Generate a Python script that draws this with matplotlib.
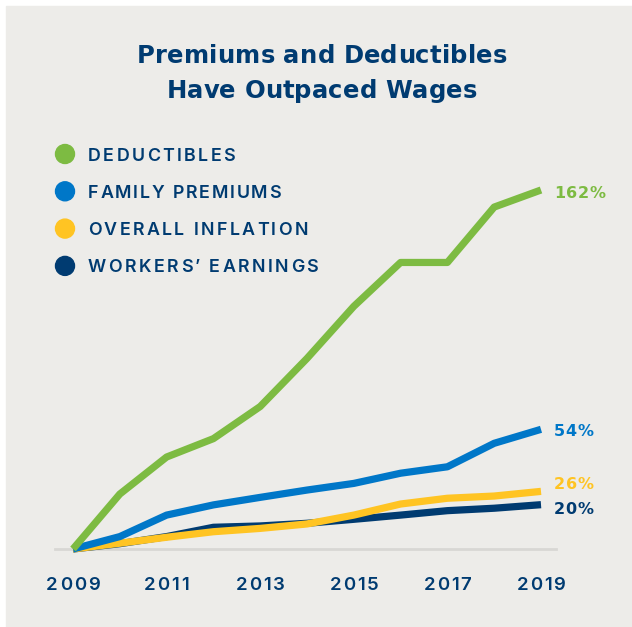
import matplotlib.pyplot as plt
from matplotlib import font_manager
from matplotlib.ft2font import FT2Font
from matplotlib.patches import Rectangle, Circle

try:
    from matplotlib.ft2font import LoadFlags
    NO_HINT = LoadFlags.NO_HINTING
except ImportError:
    from matplotlib.ft2font import LOAD_NO_HINTING as NO_HINT

# cumulative growth since 2009, percent
years = list(range(2009, 2020))
deductibles = [0, 24.8, 41.5, 49.8, 64.3, 86.0, 109.5, 129.3, 129.3, 154.3, 162]
family_premiums = [0, 5.6, 15.3, 19.9, 23.3, 26.6, 29.6, 34.2, 37.1, 47.7, 54]
overall_inflation = [0, 2.6, 5.3, 7.8, 9.3, 11.3, 15.3, 20.3, 22.9, 23.9, 26]
workers_earnings = [0, 2.4, 5.6, 9.8, 10.4, 11.6, 13.4, 15.3, 17.3, 18.4, 20]

series_names = ['DEDUCTIBLES', 'FAMILY PREMIUMS', 'OVERALL INFLATION', 'WORKERS\u2019 EARNINGS']
end_labels = ['162%', '54%', '26%', '20%']
tick_years = [2009, 2011, 2013, 2015, 2017, 2019]
title_lines = ['Premiums and Deductibles', 'Have Outpaced Wages']

GREEN = '#7DBB42'
BLUE = '#0077C8'
YELLOW = '#FFC423'
NAVY = '#003B71'
BG = '#EDECE9'
FONT = 'Inter'
BOLD_FONT = 'DejaVu Sans'

W, H = 632, 627
DPI = 100


def glyph_metrics(text, family, weight, size):
    # advance widths (px) of each char and cap height (px) at given size
    fp = font_manager.FontProperties(family=family, weight=weight)
    font = FT2Font(font_manager.findfont(fp))
    font.set_size(size, DPI)
    adv = []
    for ch in text:
        g = font.load_char(ord(ch), flags=NO_HINT)
        adv.append(g.linearHoriAdvance / 65536)
    cap = font.load_char(ord('H'), flags=NO_HINT).height / 64
    return adv, cap


def tracked_text(ax, x, cy, text, cap_px, width=None, tracking=0.0, ha='left',
                 family=FONT, weight='normal', color=NAVY):
    # draw letter-spaced text in pixel coords (y grows downward);
    # cy is the vertical middle of the capitals
    _, cap100 = glyph_metrics('H', family, weight, 100)
    size = 100 * cap_px / cap100
    adv, cap = glyph_metrics(text, family, weight, size)
    natural = sum(adv)
    if width is not None and len(text) > 1:
        tracking = (width - natural) / (len(text) - 1)
    total = natural + tracking * (len(text) - 1)
    if ha == 'center':
        x = x - total / 2
    elif ha == 'right':
        x = x - total
    base = cy + cap / 2
    for ch, a in zip(text, adv):
        ax.text(x, base, ch, ha='left', va='baseline', fontsize=size,
                family=family, fontweight=weight, color=color)
        x += a + tracking


fig = plt.figure(figsize=(W / DPI, H / DPI), dpi=DPI, facecolor='white')

# overlay in pixel coordinates for panel, title, legend and labels
deco = fig.add_axes([0, 0, 1, 1])
deco.set_xlim(0, W)
deco.set_ylim(H, 0)
deco.axis('off')
deco.add_patch(Rectangle((6, 6), W, H, color=BG, zorder=0))

tracked_text(deco, 322, 54, title_lines[0], 17.7, width=370, ha='center',
             family=BOLD_FONT, weight='bold')
tracked_text(deco, 322, 89, title_lines[1], 17.7, width=311, ha='center',
             family=BOLD_FONT, weight='bold')

colors = [GREEN, BLUE, YELLOW, NAVY]
legend_widths = [147, 193, 220, 230]
for i, (name, c) in enumerate(zip(series_names, colors)):
    y = 154 + i * 37.3
    deco.add_patch(Circle((65, y), 9.5, color=c, zorder=2))
    tracked_text(deco, 88, y, name, 13.0, width=legend_widths[i], weight='semibold')

# chart area: 2009 -> x=73px, 2019 -> x=541px, 0% -> y=549px, 162% -> y=190px
ax = fig.add_axes([73 / W, (H - 549) / H, (541 - 73) / W, (549 - 190) / H])
ax.set_xlim(2009, 2019)
ax.set_ylim(0, 162)
ax.patch.set_alpha(0)
ax.axis('off')

ax.axhline(0, xmin=-0.038, xmax=1.032, color='#D8D7D4', lw=2, clip_on=False, zorder=1)

lw = 5.2
ax.plot(years, workers_earnings, color=NAVY, lw=lw, clip_on=False, zorder=2, solid_capstyle='butt')
ax.plot(years, overall_inflation, color=YELLOW, lw=lw, clip_on=False, zorder=3, solid_capstyle='butt')
ax.plot(years, family_premiums, color=BLUE, lw=lw, clip_on=False, zorder=4, solid_capstyle='butt')
ax.plot(years, deductibles, color=GREEN, lw=lw, clip_on=False, zorder=5, solid_capstyle='butt')


def to_px(x, y):
    # data coords of the chart -> pixel coords of the overlay
    dx, dy = ax.transData.transform((x, y))
    return dx * W / fig.bbox.width, H - dy * H / fig.bbox.height


# end-of-line value labels
series = [deductibles, family_premiums, overall_inflation, workers_earnings]
label_dy = [2, 1, -8, 3]
for vals, lab, c, dy in zip(series, end_labels, colors, label_dy):
    px, py = to_px(years[-1], vals[-1])
    tracked_text(deco, px + 13, py + dy, lab, 11.7, tracking=0.6, family=BOLD_FONT,
                 weight='bold', color=c)

# year labels under the baseline
for yr in tick_years:
    px, py = to_px(yr, 0)
    tracked_text(deco, px, py + 34, str(yr), 13.5, tracking=1.8, ha='center', weight='semibold')

fig.savefig('out.png', dpi=DPI, facecolor='white')
